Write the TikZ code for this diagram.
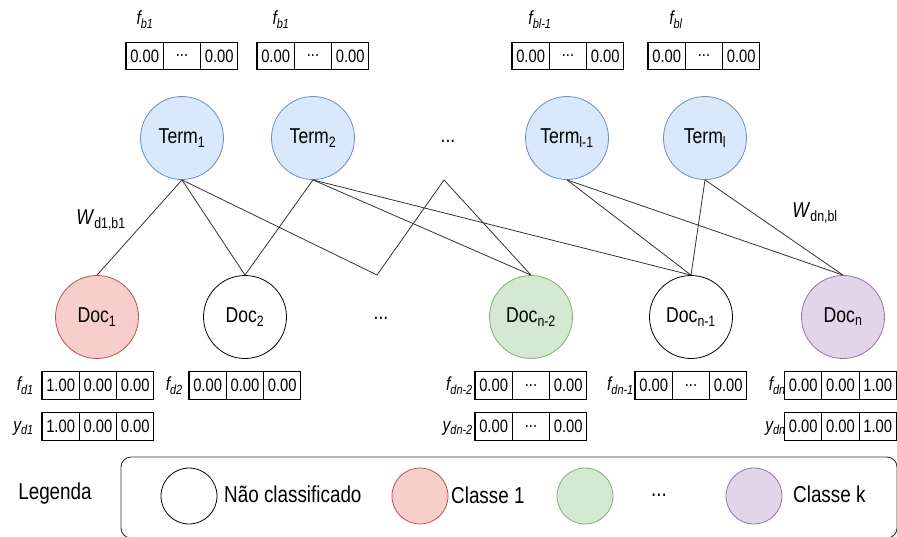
\documentclass[tikz,border=0pt]{standalone}
\usepackage{fontspec}
\setmainfont{Liberation Sans}[FakeStretch=0.82]
\usepackage{tikz}

\definecolor{termfill}{HTML}{DAE8FC}
\definecolor{termline}{HTML}{6C8EBF}
\definecolor{redfill}{HTML}{F8CECC}
\definecolor{redline}{HTML}{B85450}
\definecolor{greenfill}{HTML}{D5E8D4}
\definecolor{greenline}{HTML}{82B366}
\definecolor{purplefill}{HTML}{E1D5E7}
\definecolor{purpleline}{HTML}{9673A6}

% three boxed values in a row: name, left x, mid y, entries
\newcommand{\cellrow}[6]{%
  \node[cell] (#1a) at ({#2+18.65},#3) {#4};
  \node[cell] (#1b) at ({#2+55.95},#3) {#5};
  \node[cell] (#1c) at ({#2+93.25},#3) {#6};
}

\begin{document}
\begin{tikzpicture}[x=1pt,y=-1pt,
    every node/.style={font=\fontsize{21.5}{24}\selectfont},
    term/.style={circle,draw=termline,fill=termfill,minimum size=83pt,inner sep=0pt,line width=0.8pt},
    doc/.style={circle,draw=black,fill=white,minimum size=83pt,inner sep=0pt,line width=0.8pt},
    cell/.style={draw,line width=1.1pt,minimum width=37.3pt,minimum height=27.5pt,
      inner sep=0pt,outer sep=0pt,font=\fontsize{18}{20}\selectfont},
    lbl/.style={inner sep=0pt,font=\fontsize{19}{21}\selectfont\itshape},
    legtext/.style={anchor=west,inner sep=0pt,font=\fontsize{23}{26}\selectfont},
    link/.style={draw=black!80,line width=0.8pt},
    legdot/.style={circle,minimum size=56pt,inner sep=0pt,line width=0.8pt}]
	\useasboundingbox (0,0) rectangle (897,536);

	% Term nodes
	\node[term] (T1) at (182,138) {Term\textsubscript{1}};
	\node[term] (T2) at (313,138) {Term\textsubscript{2}};
	\node (tdots) at (448,141) {...};
	\node[term] (Tl1) at (567,138) {Term\textsubscript{l-1}};
	\node[term] (Tl) at (705,138) {Term\textsubscript{l}};

	% Term vectors
	\cellrow{fb1}{126}{56}{0.00}{...}{0.00}
	\cellrow{fb2}{257}{56}{0.00}{...}{0.00}
	\cellrow{fbl1}{512}{56}{0.00}{...}{0.00}
	\cellrow{fbl}{648}{56}{0.00}{...}{0.00}
	\node[lbl] at (145,20) {f\textsubscript{b1}};
	\node[lbl] at (281,20) {f\textsubscript{b1}};
	\node[lbl] at (540,20) {f\textsubscript{bl-1}};
	\node[lbl] at (676,20) {f\textsubscript{bl}};

	% Doc nodes
	\node[doc,draw=redline,fill=redfill] (D1) at (97,317) {Doc\textsubscript{1}};
	\node[doc] (D2) at (245,317) {Doc\textsubscript{2}};
	\node (ddots) at (381,318) {...};
	\node[doc,draw=greenline,fill=greenfill] (Dn2) at (531,317) {Doc\textsubscript{n-2}};
	\node[doc] (Dn1) at (691,317) {Doc\textsubscript{n-1}};
	\node[doc,draw=purpleline,fill=purplefill] (Dn) at (843,317) {Doc\textsubscript{n}};

	% Doc vectors
	\cellrow{fd1}{42}{385.5}{1.00}{0.00}{0.00}
	\cellrow{yd1}{42}{426.5}{1.00}{0.00}{0.00}
	\cellrow{fd2}{189}{385.5}{0.00}{0.00}{0.00}
	\cellrow{fdn2}{475}{385.5}{0.00}{...}{0.00}
	\cellrow{ydn2}{475}{426.5}{0.00}{...}{0.00}
	\cellrow{fdn1}{635}{385.5}{0.00}{...}{0.00}
	\cellrow{fdn}{784.5}{385.5}{0.00}{0.00}{1.00}
	\cellrow{ydn}{784.5}{426.5}{0.00}{0.00}{1.00}
	\node[lbl,anchor=east] at (34,386) {f\textsubscript{d1}};
	\node[lbl,anchor=east] at (34,428) {y\textsubscript{d1}};
	\node[lbl,anchor=east] at (183,386) {f\textsubscript{d2}};
	\node[lbl,anchor=east] at (473,386) {f\textsubscript{dn-2}};
	\node[lbl,anchor=east] at (473,428) {y\textsubscript{dn-2}};
	\node[lbl,anchor=east] at (634,386) {f\textsubscript{dn-1}};
	\node[lbl,anchor=east] at (786,386) {f\textsubscript{dn}};
	\node[lbl,anchor=east] at (786,428) {y\textsubscript{dn}};

	% Weighted links
	\coordinate (z1) at (377,275);
	\coordinate (z2) at (444,180);
	\draw[link] (T1.south) -- (D1.north);
	\draw[link] (T1.south) -- (D2.north);
	\draw[link] (T1.south) -- (z1) -- (z2) -- (Dn2.north);
	\draw[link] (T2.south) -- (D2.north);
	\draw[link] (T2.south) -- (Dn2.north);
	\draw[link] (T2.south) -- (Dn1.north);
	\draw[link] (Tl1.south) -- (Dn1.north);
	\draw[link] (Tl1.south) -- (Dn.north);
	\draw[link] (Tl.south) -- (Dn1.north);
	\draw[link] (Tl.south) -- (Dn.north);
	\node[inner sep=0pt] at (101,220) {\textit{W}\textsubscript{d1,b1}};
	\node[inner sep=0pt] at (815,213) {\textit{W}\textsubscript{dn,bl}};

	% Legend
	\node[font=\fontsize{23}{26}\selectfont] (leg) at (55,494) {Legenda};
	\draw[line width=0.9pt,black!80,rounded corners=10pt] (121,457) rectangle (897,538);
	\node[legdot,draw=black] (Lnone) at (189,496) {};
	\node[legtext] at (224,494) {Não classificado};
	\node[legdot,draw=redline,fill=redfill] (Lred) at (420,496) {};
	\node[legtext] at (451,495) {Classe 1};
	\node[legdot,draw=greenline,fill=greenfill] (Lgreen) at (585,496) {};
	\node[font=\fontsize{23}{26}\selectfont] at (659,495) {...};
	\node[legdot,draw=purpleline,fill=purplefill] (Lpurple) at (754,496) {};
	\node[legtext] at (793,494) {Classe k};
\end{tikzpicture}
\end{document}
